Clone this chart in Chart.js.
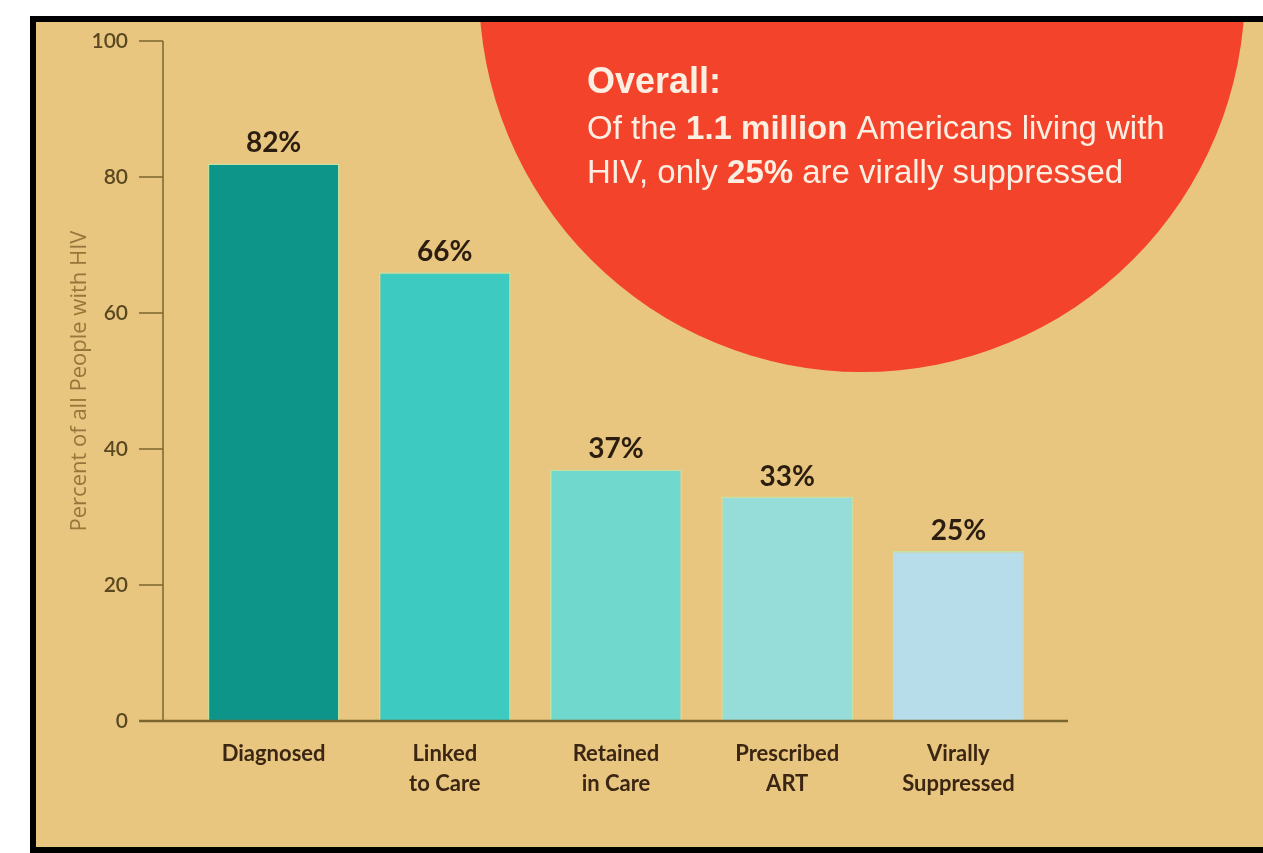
<!DOCTYPE html>
<html>
<head>
<meta charset="utf-8">
<script src="https://cdn.jsdelivr.net/npm/chart.js@4.4.1/dist/chart.umd.min.js"></script>
<style>
  body { margin: 0; background: #fff; }
  #frame {
    position: absolute; left: 30px; top: 16px;
    border-left: 6px solid #000; border-top: 6px solid #000; border-bottom: 6px solid #000;
    background: #e8c680;
  }
  canvas { display: block; }
</style>
</head>
<body>
<div id="frame"><canvas id="cascade" width="1227" height="825"></canvas></div>
<script>
const stages = [['Diagnosed'], ['Linked', 'to Care'], ['Retained', 'in Care'], ['Prescribed', 'ART'], ['Virally', 'Suppressed']];
const percents = [82, 66, 37, 33, 25];
const barColors = ['#0e958a', '#3dcac1', '#70d8cc', '#96dcd9', '#b7dcea'];
const yTicks = [0, 20, 40, 60, 80, 100];
const yTitle = 'Percent of all People with HIV';
// callout text, each line is a list of [text, bold]
const noteTitle = 'Overall:';
const noteLines = [
  [['Of the ', false], ['1.1 million', true], [' Americans living with', false]],
  [['HIV, only ', false], ['25%', true], [' are virally suppressed', false]]
];

const axisColor = '#7b6630';

const callout = {
  id: 'callout',
  beforeDraw(chart) {
    const ctx = chart.ctx;
    ctx.save();
    ctx.fillStyle = '#f3432a';
    ctx.beginPath();
    ctx.arc(826, -33, 383, 0, Math.PI * 2);
    ctx.fill();

    ctx.fillStyle = '#fcefe2';
    ctx.textBaseline = 'alphabetic';
    ctx.textAlign = 'left';
    ctx.font = 'bold 36px "Liberation Sans", Arial, sans-serif';
    ctx.fillText(noteTitle, 551, 71);
    let y = 117;
    noteLines.forEach(runs => {
      let x = 551;
      runs.forEach(([text, bold]) => {
        ctx.font = (bold ? 'bold ' : '') + '33px "Liberation Sans", Arial, sans-serif';
        ctx.fillText(text, x, y);
        x += ctx.measureText(text).width;
      });
      y += 44;
    });
    ctx.restore();
  }
};

const axes = {
  id: 'axes',
  afterDatasetsDraw(chart) {
    const ctx = chart.ctx;
    const area = chart.chartArea;
    const yScale = chart.scales.y;
    const axisX = area.left - 25;
    const zero = yScale.getPixelForValue(0);
    ctx.save();
    ctx.strokeStyle = axisColor;
    ctx.lineWidth = 1.5;
    ctx.beginPath();
    ctx.moveTo(axisX, yScale.getPixelForValue(100));
    ctx.lineTo(axisX, zero);
    yScale.ticks.forEach(t => {
      const py = yScale.getPixelForValue(t.value);
      ctx.moveTo(axisX - 24, py);
      ctx.lineTo(axisX, py);
    });
    ctx.stroke();
    ctx.lineWidth = 2.5;
    ctx.beginPath();
    ctx.moveTo(axisX - 24, zero);
    ctx.lineTo(area.right + 24, zero);
    ctx.stroke();

    // value labels above bars
    const meta = chart.getDatasetMeta(0);
    ctx.fillStyle = '#2b1d10';
    ctx.font = 'bold 28px Lato, sans-serif';
    ctx.textAlign = 'center';
    ctx.textBaseline = 'alphabetic';
    meta.data.forEach((bar, i) => {
      ctx.fillText(percents[i] + '%', bar.x, bar.y - 11);
    });
    ctx.restore();
  }
};

new Chart(document.getElementById('cascade'), {
  type: 'bar',
  data: {
    labels: stages,
    datasets: [{
      data: percents,
      backgroundColor: barColors,
      borderColor: 'rgba(190, 232, 170, 0.75)',
      borderWidth: 1.5,
      barPercentage: 0.77,
      categoryPercentage: 1
    }]
  },
  options: {
    responsive: false,
    animation: false,
    layout: { padding: { left: 20, right: 219, top: 19, bottom: 26 } },
    plugins: { legend: { display: false }, tooltip: { enabled: false } },
    scales: {
      x: {
        grid: { display: false },
        border: { display: false },
        ticks: {
          color: '#3b2613',
          font: { family: 'Lato', size: 22, weight: 'bold', lineHeight: 1.36 },
          padding: 10,
          maxRotation: 0,
          autoSkip: false
        },
        afterFit(scale) { scale.height = 100; }
      },
      y: {
        min: 0,
        max: 100,
        // invisible tick marks only push the labels left
        grid: { display: true, drawOnChartArea: false, tickLength: 60, tickColor: 'rgba(0,0,0,0)' },
        border: { display: false },
        afterBuildTicks(scale) { scale.ticks = yTicks.map(v => ({ value: v })); },
        ticks: {
          color: '#5a4820',
          font: { family: 'Lato', size: 21, weight: '600' },
          padding: 0
        },
        title: {
          display: true,
          text: yTitle,
          color: '#96763a',
          font: { family: 'Open Sans', size: 22 },
          padding: { top: 11, bottom: 0 }
        },
        afterFit(scale) { scale.width = 132; }
      }
    }
  },
  plugins: [callout, axes]
});
</script>
</body>
</html>
